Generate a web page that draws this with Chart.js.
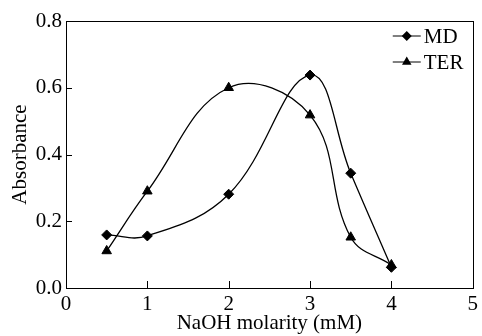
<!DOCTYPE html>
<html><head><meta charset="utf-8">
<script src="https://cdn.jsdelivr.net/npm/chart.js@4/dist/chart.umd.min.js"></script>
<style>html,body{margin:0;padding:0;background:#fff}#wrap{width:482px;height:336px}</style>
</head><body><div id="wrap"><canvas id="c" width="482" height="336"></canvas></div>
<script>
const xValues = [0.5, 1, 2, 3, 3.5, 4];
const mdValues = [0.159, 0.156, 0.281, 0.638, 0.344, 0.062];
const terValues = [0.111, 0.290, 0.600, 0.518, 0.152, 0.069];
const seriesNames = ['MD', 'TER'];
const xTitle = 'NaOH molarity (mM)';
const yTitle = 'Absorbance';

const FONT = 'Liberation Serif';

const frame = {
  id: 'frame',
  afterDatasetsDraw(chart) {
    const {ctx, chartArea: a, scales} = chart;
    ctx.save();
    ctx.strokeStyle = '#000'; ctx.lineWidth = 1;
    ctx.strokeRect(Math.round(a.left)+0.5, Math.round(a.top)+0.5, Math.round(a.right-a.left), Math.round(a.bottom-a.top));
    ctx.beginPath();
    scales.x.ticks.forEach(t => {
      if (t.value <= scales.x.min || t.value >= scales.x.max) return;
      const px = Math.round(scales.x.getPixelForValue(t.value)) + 0.5;
      ctx.moveTo(px, a.bottom); ctx.lineTo(px, a.bottom - 7);
    });
    scales.y.ticks.forEach(t => {
      if (t.value <= scales.y.min || t.value >= scales.y.max) return;
      const py = Math.round(scales.y.getPixelForValue(t.value)) + 0.5;
      ctx.moveTo(a.left, py); ctx.lineTo(a.left + 6, py);
    });
    ctx.stroke();
    // legend
    chart.data.datasets.forEach((ds, i) => {
      const y = a.top + 15 + i * 26;
      const x0 = a.right - 80, x1 = a.right - 52;
      ctx.beginPath(); ctx.moveTo(x0, y); ctx.lineTo(x1, y); ctx.stroke();
      Chart.helpers.drawPoint(ctx, {pointStyle: ds.pointStyle, radius: ds.pointRadius, rotation: 0}, (x0+x1)/2, y);
      ctx.fillStyle = '#000';
      ctx.font = '21px "' + FONT + '"';
      ctx.textBaseline = 'middle'; ctx.textAlign = 'left';
      ctx.fillText(ds.label, x1 + 3, y + 1);
    });
    ctx.restore();
  }
};

const mk = (vals) => xValues.map((x, i) => ({x, y: vals[i]}));

new Chart(document.getElementById('c'), {
  type: 'line',
  data: {
    datasets: [
      {label: seriesNames[0], data: mk(mdValues), pointStyle: 'rectRot', pointRadius: 5, pointHoverRadius: 5,
       borderColor: '#000', backgroundColor: '#000', borderWidth: 1.3, pointBorderWidth: 1, tension: 0.4, fill: false},
      {label: seriesNames[1], data: mk(terValues), pointStyle: 'triangle', pointRadius: 5.5, pointHoverRadius: 5.5,
       borderColor: '#000', backgroundColor: '#000', borderWidth: 1.3, pointBorderWidth: 1, tension: 0.4, fill: false}
    ]
  },
  options: {
    responsive: false, animation: false,
    layout: {padding: {top: 21, right: 3, left: 0, bottom: 0}},
    plugins: {legend: {display: false}, tooltip: {enabled: false}},
    scales: {
      x: {type: 'linear', min: 0, max: 5,
        ticks: {stepSize: 1, color: '#000', font: {family: FONT, size: 21}, padding: 4, maxRotation: 0,
          callback: v => String(v)},
        grid: {display: false, drawTicks: false},
        border: {display: true, color: '#000'},
        title: {display: true, text: xTitle, color: '#000', font: {family: FONT, size: 21}, padding: {top: 0, bottom: 0}},
        afterFit: s => { s.height = 48; }
      },
      y: {type: 'linear', min: 0, max: 0.8,
        ticks: {stepSize: 0.2, color: '#000', font: {family: FONT, size: 21}, padding: 4,
          callback: v => v.toFixed(1)},
        grid: {display: false, drawTicks: false},
        border: {display: true, color: '#000'},
        title: {display: true, text: yTitle, color: '#000', font: {family: FONT, size: 21}, padding: {top: 8, bottom: 4}},
        afterFit: s => { s.width = 66; }
      }
    }
  },
  plugins: [frame]
});
</script></body></html>
